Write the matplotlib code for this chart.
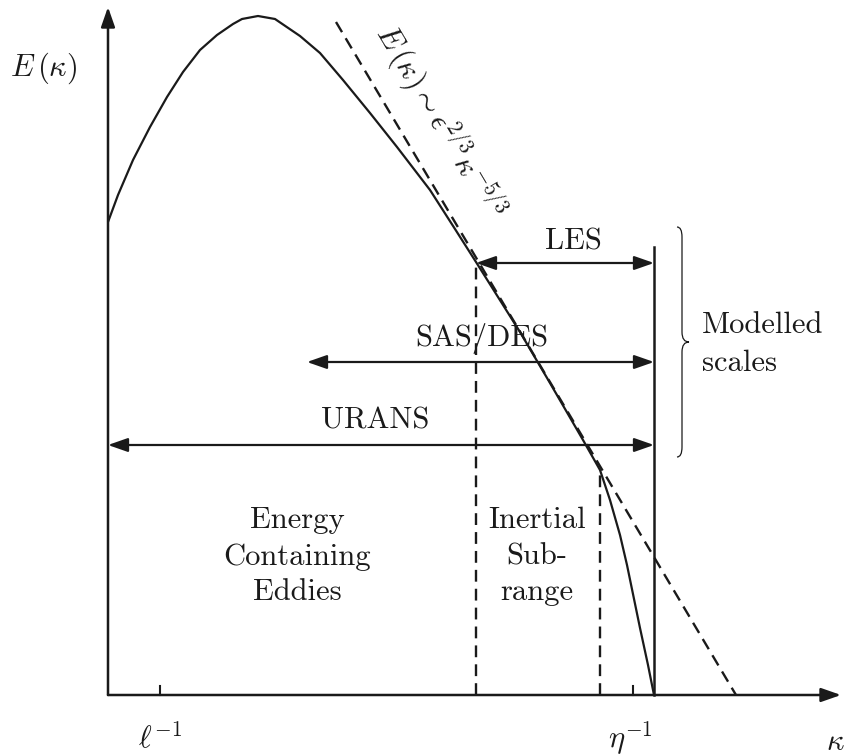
import numpy as np
import matplotlib
matplotlib.use('Agg')
from matplotlib import pyplot as plt
from matplotlib.path import Path
from matplotlib.patches import PathPatch

plt.rcParams.update({'font.family': 'serif', 'font.serif': ['cmr10'],
                     'mathtext.fontset': 'cm', 'axes.formatter.use_mathtext': True,
                     'font.size': 22})

ink = '#1a1a1a'

# ----- schematic data (wavenumber / energy, arbitrary units) ----- #
kappa = [0, 10, 25, 42, 59, 75, 92, 109, 125, 134, 150, 167, 192, 212, 235, 262,
         289, 322, 347, 368, 412, 442, 475, 492, 502, 512, 519, 532, 540, 546]
energy = [473, 500, 535, 568, 598, 623, 645, 660, 671, 676, 679, 676, 659, 642, 615, 582,
          548, 505, 466, 433, 363, 312, 255, 225, 195, 160, 130, 67, 30, 0]

kolmo_k = [228, 628]          # -5/3 law line ends
kolmo_e = [673, 0]

k_les = 368                   # LES cut-off
k_diss = 492                  # end of inertial range
k_eta = 546                   # Kolmogorov scale
k_ell = 52                    # integral scale tick
k_tick = 525                  # eta^-1 tick

ranges = {'LES': (k_les, 432), 'SAS/DES': (199, 333), 'URANS': (0, 250)}

# ----- figure ----- #
fig = plt.figure(figsize=(8.51, 7.56), dpi=100)
ax = fig.add_axes([0, 0, 1, 1])
ax.set_xlim(-108, 743)
ax.set_ylim(-61, 695)
ax.axis('off')

dash = (0, (5, 3))

# axes with arrows
head = dict(arrowstyle='-|>,head_length=1.0,head_width=0.35', color=ink, lw=1.8,
            mutation_scale=12, shrinkA=0, shrinkB=0)
ax.annotate('', xy=(0, 688), xytext=(0, 0), arrowprops=head)
ax.annotate('', xy=(733, 0), xytext=(0, 0), arrowprops=head)

# spectrum and -5/3 line
ax.plot(kappa, energy, color=ink, lw=1.6, solid_capstyle='butt')
ax.plot(kolmo_k, kolmo_e, color=ink, lw=1.7, ls=dash)

# vertical markers
ax.plot([k_les, k_les], [0, 433], color=ink, lw=1.7, ls=dash)
ax.plot([k_diss, k_diss], [0, 225], color=ink, lw=1.7, ls=dash)
ax.plot([k_eta, k_eta], [0, 448], color=ink, lw=1.8)
for k in [k_ell, k_tick]:
    ax.plot([k, k], [0, 9], color=ink, lw=1.5)

# resolved ranges
dbl = dict(head, arrowstyle='<|-|>,head_length=1.0,head_width=0.35', lw=1.6)
for name, (k0, y) in ranges.items():
    ax.annotate('', xy=(k_eta, y), xytext=(k0, y), arrowprops=dbl)
ax.text(465, 453, 'LES', ha='center', va='center', color=ink)
ax.text(374, 357, 'SAS/DES', ha='center', va='center', color=ink)
ax.text(267, 274, 'URANS', ha='center', va='center', color=ink)

# region labels
for txt, y in zip(['Energy', 'Containing', 'Eddies'], [175, 138, 103]):
    ax.text(189, y, txt, ha='center', va='center', color=ink)
for txt, y in zip(['Inertial', 'Sub-', 'range'], [175, 138, 103]):
    ax.text(429, y, txt, ha='center', va='center', color=ink)

# brace for modelled scales
bx, btop, bbot, bmid = 574, 468, 238, 353
verts = [(bx - 5, btop), (bx, btop), (bx, btop - 10),
         (bx, bmid + 10), (bx, bmid), (bx + 7, bmid),
         (bx, bmid), (bx, bmid - 10),
         (bx, bbot + 10), (bx, bbot), (bx - 5, bbot)]
codes = [Path.MOVETO, Path.CURVE3, Path.CURVE3,
         Path.LINETO, Path.CURVE3, Path.CURVE3,
         Path.CURVE3, Path.CURVE3,
         Path.LINETO, Path.CURVE3, Path.CURVE3]
ax.add_patch(PathPatch(Path(verts, codes), fc='none', ec=ink, lw=0.9))
ax.text(594, 370, 'Modelled', ha='left', va='center', color=ink)
ax.text(594, 332, 'scales', ha='left', va='center', color=ink)

# axis labels
ax.text(-64, 627, r'$E\,(\kappa)$', ha='center', va='center', color=ink)
ax.text(k_ell, -43, r'$\ell^{-1}$', ha='center', va='center', color=ink)
ax.text(k_tick - 3, -43, r'$\eta^{-1}$', ha='center', va='center', color=ink)
ax.text(727, -47, r'$\kappa$', ha='center', va='center', color=ink)
ax.text(332, 573, r'$E\,(\kappa)\sim\epsilon^{2/3}\kappa^{-5/3}$',
        rotation=-59.3, rotation_mode='anchor', ha='center', va='center', color=ink)

plt.savefig('out.png', dpi=100)
